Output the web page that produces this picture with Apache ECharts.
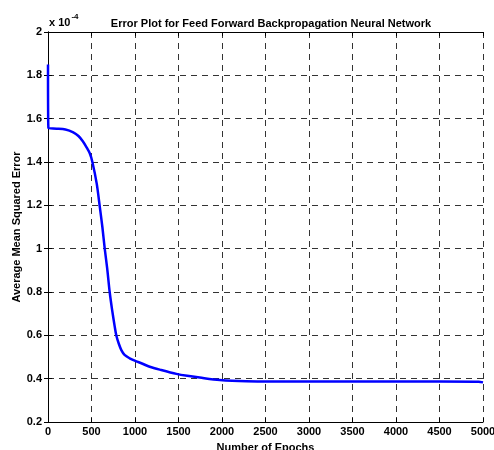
<!DOCTYPE html>
<html>
<head>
<meta charset="utf-8">
<script src="https://cdn.jsdelivr.net/npm/echarts@6/dist/echarts.min.js"></script>
<style>
  html, body { margin: 0; padding: 0; background: #fff; }
  #chart { width: 494px; height: 450px; }
</style>
</head>
<body>
<div id="chart"></div>
<script>
// epochs and error (in units of 1e-4)
const epochs = [0, 5, 100, 200, 290, 350, 400, 440, 480, 510, 560, 595, 625, 652, 680, 709, 736, 767, 786, 815, 843, 880, 939, 997, 1080, 1169, 1300, 1476, 1600, 1744, 1974, 2280, 2600, 3000, 3500, 4000, 4500, 4950, 5000];
const errors = [1.85, 1.556, 1.554, 1.55, 1.537, 1.52, 1.496, 1.47, 1.44, 1.40, 1.30, 1.194, 1.10, 1.0, 0.91, 0.80, 0.72, 0.64, 0.598, 0.56, 0.532, 0.51, 0.494, 0.483, 0.47, 0.455, 0.44, 0.422, 0.413, 0.405, 0.394, 0.388, 0.387, 0.387, 0.387, 0.387, 0.387, 0.386, 0.383];
const xTicks = { min: 0, max: 5000, step: 500 };
const yTicks = { min: 0.2, max: 2, step: 0.2 };

const font = "Liberation Sans, Arial, sans-serif";
const gridLine = { show: true, lineStyle: { color: "#333", type: [6, 5], width: 1 } };

const option = {
  animation: false,
  title: {
    text: "Error Plot for Feed Forward Backpropagation Neural Network",
    left: 266,
    top: 13,
    textAlign: "center",
    textStyle: { fontFamily: font, fontSize: 11, fontWeight: "bold", color: "#000" },
  },
  graphic: [
    {
      type: "text",
      left: 49,
      top: 13,
      style: {
        text: "{a|x 10}{b|-4}",
        rich: {
          a: { fontFamily: font, fontSize: 11, fontWeight: "bold", fill: "#000", padding: [6, 0, 0, 0] },
          b: { fontFamily: font, fontSize: 8, fontWeight: "bold", fill: "#000", padding: [0, 0, 6, 1] },
        },
      },
    },
  ],
  grid: { left: 48, right: 11, top: 32, bottom: 28, outerBoundsMode: "none" },
  xAxis: [
    {
      type: "value",
      min: xTicks.min,
      max: xTicks.max,
      interval: xTicks.step,
      name: "Number of Epochs",
      nameLocation: "middle",
      nameGap: 20,
      nameMoveOverlap: false,
      nameTextStyle: { fontFamily: font, fontSize: 11, fontWeight: "bold", color: "#000" },
      axisLine: { lineStyle: { color: "#000", width: 1 } },
      axisTick: { inside: true, length: 4, lineStyle: { color: "#000" } },
      axisLabel: { fontFamily: font, fontSize: 11, fontWeight: "bold", color: "#000", margin: 4, formatter: (v) => String(v) },
      splitLine: gridLine,
    },
    {
      type: "value",
      position: "top",
      min: xTicks.min,
      max: xTicks.max,
      interval: xTicks.step,
      axisLine: { lineStyle: { color: "#000", width: 1 } },
      axisTick: { inside: true, length: 4, lineStyle: { color: "#000" } },
      axisLabel: { show: false },
      splitLine: { show: false },
    },
  ],
  yAxis: [
    {
      type: "value",
      min: yTicks.min,
      max: yTicks.max,
      interval: yTicks.step,
      name: "Average Mean Squared Error",
      nameLocation: "middle",
      nameGap: 26,
      nameMoveOverlap: false,
      nameTextStyle: { fontFamily: font, fontSize: 11, fontWeight: "bold", color: "#000" },
      axisLine: { show: true, lineStyle: { color: "#000", width: 1 } },
      axisTick: { show: true, inside: true, length: 4, lineStyle: { color: "#000" } },
      axisLabel: {
        fontFamily: font, fontSize: 11, fontWeight: "bold", color: "#000", margin: 6,
        formatter: (v) => String(Math.round(v * 10) / 10),
      },
      splitLine: gridLine,
    },
    {
      type: "value",
      position: "right",
      min: yTicks.min,
      max: yTicks.max,
      interval: yTicks.step,
      axisLine: { show: true, lineStyle: { color: "#000", width: 1 } },
      axisTick: { show: true, inside: true, length: 4, lineStyle: { color: "#000" } },
      axisLabel: { show: false },
      splitLine: { show: false },
    },
  ],
  series: [
    {
      type: "line",
      data: epochs.map((e, i) => [e, errors[i]]),
      smooth: 0.3,
      showSymbol: false,
      lineStyle: { color: "#0000ff", width: 2.5 },
      itemStyle: { color: "#0000ff" },
    },
  ],
};

const chart = echarts.init(document.getElementById("chart"));
chart.setOption(option);
</script>
</body>
</html>
